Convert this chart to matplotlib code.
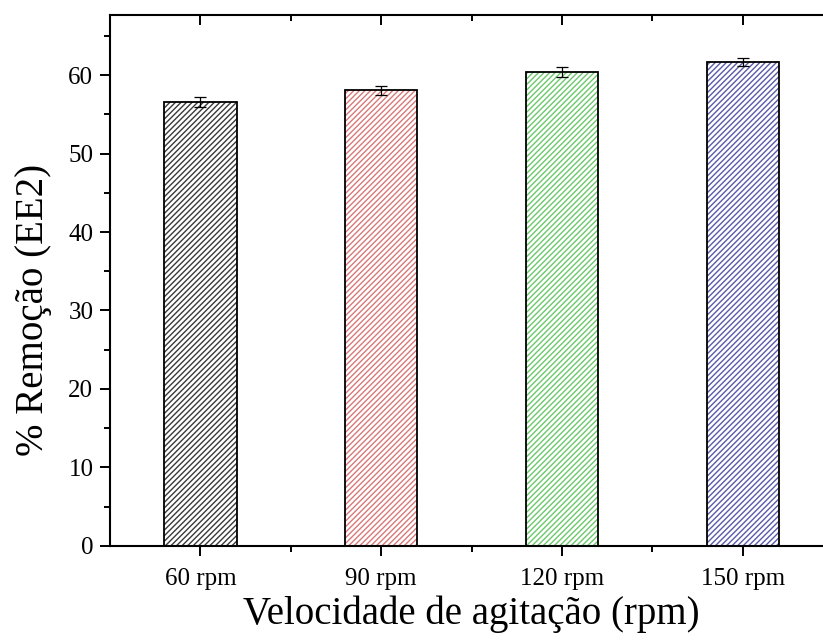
import numpy as np
import matplotlib
matplotlib.use("Agg")
import matplotlib.pyplot as plt
from matplotlib.ticker import MultipleLocator

# dados
categorias = ["60 rpm", "90 rpm", "120 rpm", "150 rpm"]
remocao = [56.6, 58.05, 60.4, 61.7]
erro = [0.68, 0.53, 0.65, 0.5]
cores_hachura = ["#3a3a3a", "#d77a7a", "#6cc86c", "#5a5aa8"]

plt.rcParams["font.family"] = ["Liberation Serif", "DejaVu Serif"]
plt.rcParams["hatch.linewidth"] = 1.0

fig = plt.figure(figsize=(8.23, 6.44), dpi=100)
ax = fig.add_axes([0.1337, 0.1526, 0.8785, 0.8244])

x = np.arange(1, len(categorias) + 1)

# hachura colorida
for xi, yi, c in zip(x, remocao, cores_hachura):
    ax.bar(xi, yi, width=0.4, facecolor="white", edgecolor=c, hatch="//////",
           linewidth=0, zorder=2)
# contorno preto
ax.bar(x, remocao, width=0.4, facecolor="none", edgecolor="black",
       linewidth=1.3, zorder=3)
ax.errorbar(x, remocao, yerr=erro, fmt="none", ecolor="black",
            elinewidth=0.9, capsize=4, capthick=0.9, zorder=4)

ax.set_xlim(0.5, 4.5)
ax.set_ylim(0, 67.7)
ax.set_xticks(x)
ax.set_xticklabels(categorias)
ax.set_xticks([1.5, 2.5, 3.5], minor=True)
ax.yaxis.set_major_locator(MultipleLocator(10))
ax.yaxis.set_minor_locator(MultipleLocator(5))

ax.tick_params(axis="both", which="major", labelsize=18, length=7, width=1.4,
               direction="out")
ax.tick_params(axis="both", which="minor", length=4.5, width=1.4,
               direction="out")
ax.tick_params(axis="x", which="major", pad=9)
ax.tick_params(axis="y", which="major", pad=5)
ax.tick_params(axis="x", which="both", top=True, labeltop=False)
for t in ax.xaxis.get_major_ticks() + ax.xaxis.get_minor_ticks():
    t.tick2line.set_marker(3)  # tick para dentro no topo
ax.tick_params(axis="y", which="both", right=False)

for s in ax.spines.values():
    s.set_linewidth(1.5)

ax.set_xlabel("Velocidade de agitação (rpm)", fontsize=28)
ax.set_ylabel("% Remoção (EE2)", fontsize=28)
ax.xaxis.set_label_coords(0.5, -0.094)
ax.yaxis.set_label_coords(-0.080, 0.444)

fig.savefig("out.png", dpi=100)
